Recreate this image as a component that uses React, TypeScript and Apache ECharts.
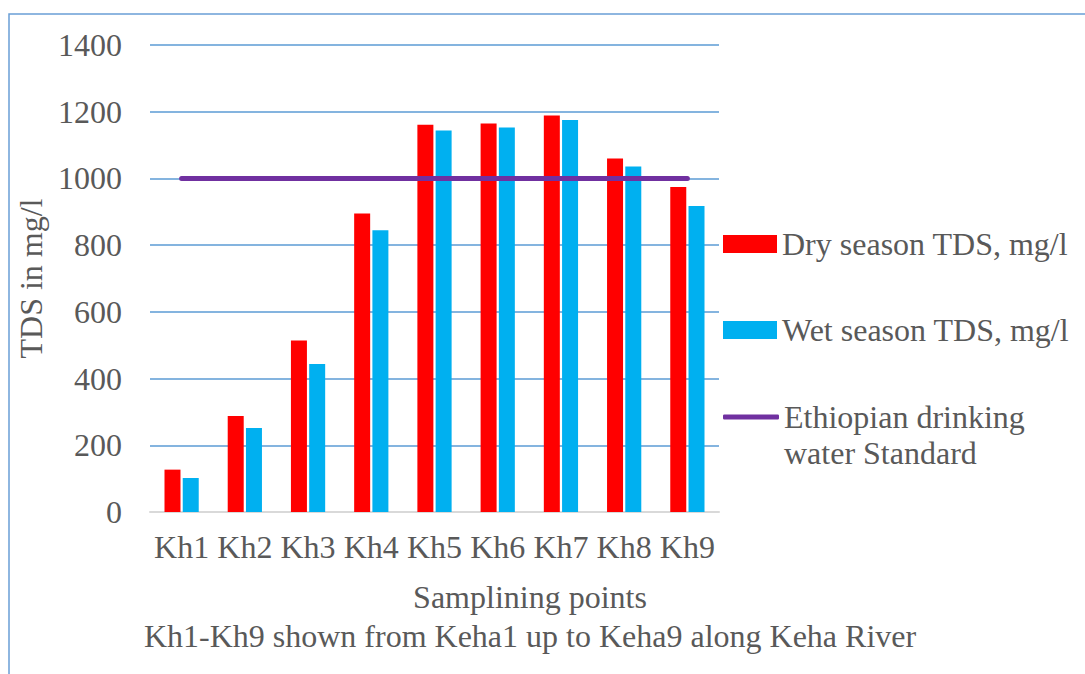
import React, { useEffect, useRef } from 'react';
import * as echarts from 'echarts';

// Sampling points along the Keha River
const categories = ['Kh1', 'Kh2', 'Kh3', 'Kh4', 'Kh5', 'Kh6', 'Kh7', 'Kh8', 'Kh9'];
// Total dissolved solids, mg/l
const drySeason = [127, 288, 514, 895, 1161, 1165, 1189, 1060, 974];
const wetSeason = [102, 252, 444, 845, 1144, 1153, 1175, 1036, 917];
// Ethiopian drinking water standard limit
const standard = [1000, 1000, 1000, 1000, 1000, 1000, 1000, 1000, 1000];

const yTicks = { min: 0, max: 1400, interval: 200 };

const DRY = 'Dry season TDS, mg/l';
const WET = 'Wet season TDS, mg/l';
const STD = 'Ethiopian drinking water Standard';

const FONT = 'Liberation Serif';
const TEXT = '#595959';
const FS = 32;

export default function App() {
  const ref = useRef<HTMLDivElement>(null);

  useEffect(() => {
    const chart = echarts.init(ref.current!, null, { renderer: 'svg' });
    const legendBase = {
      orient: 'vertical' as const,
      left: 723,
      padding: 0,
      itemWidth: 54,
      itemHeight: 18,
      itemGap: 0,
      textStyle: { fontFamily: FONT, fontSize: FS, color: TEXT, lineHeight: 36 },
    };
    chart.setOption({
      animation: false,
      backgroundColor: '#ffffff',
      grid: { left: 150, right: 366, top: 45, bottom: 162 },
      legend: [
        { ...legendBase, top: 226, data: [{ name: DRY, icon: 'rect' }] },
        { ...legendBase, top: 312, data: [{ name: WET, icon: 'rect' }] },
        {
          ...legendBase,
          top: 363,
          itemWidth: 56,
          itemHeight: 5,
          data: [{ name: STD, icon: 'roundRect' }],
          formatter: () => '\nEthiopian drinking\nwater Standard',
        },
      ],
      xAxis: {
        type: 'category',
        data: categories,
        boundaryGap: true,
        axisLine: { lineStyle: { color: '#d9d9d9', width: 2 } },
        axisTick: { show: false },
        axisLabel: { interval: 0, fontFamily: FONT, fontSize: FS, color: TEXT, margin: 19 },
      },
      yAxis: {
        type: 'value',
        min: yTicks.min,
        max: yTicks.max,
        interval: yTicks.interval,
        name: 'TDS in mg/l',
        nameLocation: 'middle',
        nameGap: 92,
        nameTextStyle: { fontFamily: FONT, fontSize: FS, color: TEXT },
        axisLine: { show: false },
        axisTick: { show: false },
        axisLabel: {
          fontFamily: FONT,
          fontSize: FS,
          color: TEXT,
          margin: 28,
          formatter: (v: number) => String(v),
        },
        splitLine: { lineStyle: { color: '#5b9bd5', width: 1.5 } },
      },
      series: [
        {
          name: DRY,
          type: 'bar',
          data: drySeason,
          barWidth: 16,
          barGap: '14%',
          itemStyle: { color: '#ff0000' },
        },
        {
          name: WET,
          type: 'bar',
          data: wetSeason,
          barWidth: 16,
          itemStyle: { color: '#00b0f0' },
        },
        {
          name: STD,
          type: 'line',
          data: standard,
          symbol: 'none',
          z: 5,
          itemStyle: { color: '#7030a0' },
          lineStyle: { color: '#7030a0', width: 5, cap: 'round' },
        },
      ],
      graphic: [
        {
          type: 'rect',
          silent: true,
          shape: { x: 9, y: 14, width: 1100, height: 700 },
          style: { fill: 'none', stroke: '#6a9fd6', lineWidth: 1.5 },
        },
        {
          type: 'text',
          silent: true,
          x: 530,
          y: 597,
          style: {
            text: 'Samplining points',
            fontFamily: FONT,
            fontSize: FS,
            fill: TEXT,
            align: 'center',
            verticalAlign: 'middle',
          },
        },
        {
          type: 'text',
          silent: true,
          x: 530,
          y: 636,
          style: {
            text: 'Kh1-Kh9 shown from Keha1 up to Keha9 along Keha River',
            fontFamily: FONT,
            fontSize: FS,
            fill: TEXT,
            align: 'center',
            verticalAlign: 'middle',
          },
        },
      ],
    });
    return () => chart.dispose();
  }, []);

  return (
    <div
      ref={ref}
      style={{ position: 'fixed', left: 0, top: 0, width: 1085, height: 674 }}
    />
  );
}
